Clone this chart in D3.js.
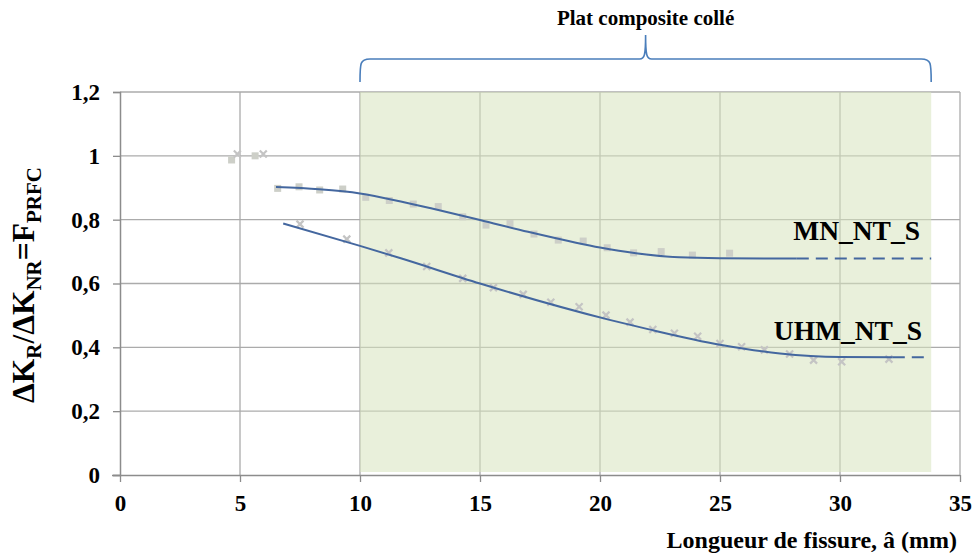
<!DOCTYPE html>
<html>
<head>
<meta charset="utf-8">
<script src="https://cdn.jsdelivr.net/npm/d3@7"></script>
<style>
  body { margin: 0; background: #fff; }
</style>
</head>
<body>
<div id="chart"></div>
<script>
// ticks
const xTicks = [0, 5, 10, 15, 20, 25, 30, 35]
const yTicks = [0, 0.2, 0.4, 0.6, 0.8, 1, 1.2]

// zone "plat composite collé" (mm)
const zoneRange = [10, 33.8]

// MN_NT_S : points mesurés (carrés)
const mnPoints = [
  [4.65, 0.987], [5.63, 1.0], [6.57, 0.898], [7.46, 0.903], [8.32, 0.893],
  [9.28, 0.896], [10.24, 0.870], [11.22, 0.860], [12.22, 0.849], [13.26, 0.841],
  [14.28, 0.809], [15.25, 0.783], [16.25, 0.788], [17.25, 0.755], [18.26, 0.736],
  [19.3, 0.733], [20.3, 0.712], [21.4, 0.696], [22.55, 0.700], [23.85, 0.689],
  [25.4, 0.695]
]
// UHM_NT_S : points mesurés (croix)
const uhmPoints = [
  [4.89, 1.006], [5.97, 1.006], [7.5, 0.786], [9.45, 0.739], [11.2, 0.696],
  [12.78, 0.653], [14.28, 0.616], [15.56, 0.587], [16.8, 0.566], [17.95, 0.541],
  [19.13, 0.527], [20.25, 0.501], [21.25, 0.479], [22.2, 0.456], [23.1, 0.444],
  [24.07, 0.435], [25.0, 0.412], [25.9, 0.402], [26.85, 0.392], [27.9, 0.379],
  [28.9, 0.360], [30.07, 0.355], [32.04, 0.363]
]

// courbes de tendance
const mnCurve = [
  [6.5, 0.902], [8.3, 0.895], [10, 0.882], [11.7, 0.857], [13, 0.835], [15, 0.799],
  [17, 0.762], [19, 0.728], [20, 0.713], [21.5, 0.695], [23.3, 0.682], [25, 0.679],
  [28.2, 0.678]
]
const mnDash = [[28.2, 0.678], [33.8, 0.678]]
const uhmCurve = [
  [6.8, 0.788], [10, 0.718], [11.7, 0.679], [15, 0.600], [20.4, 0.486], [22, 0.457],
  [25, 0.408], [27.5, 0.381], [30, 0.370], [32.2, 0.369]
]
const uhmDash = [[32.2, 0.369], [33.5, 0.369]]

const width = 976
const height = 556
const margin = { top: 92, right: 16, bottom: 81, left: 120 }
const lineColor = '#44679f'
const font = 'Liberation Serif'

const svg = d3.select('#chart')
  .append('svg')
  .attr('width', width)
  .attr('height', height)
  .attr('font-family', font)
  .attr('font-weight', 'bold')

const x = d3.scaleLinear().domain([0, 35]).range([margin.left, width - margin.right])
const y = d3.scaleLinear().domain([0, 1.2]).range([height - margin.bottom, margin.top])

// ajoute un texte en gras
function addText(px, py, size, anchor, str) {
  return svg.append('text')
    .attr('x', px).attr('y', py)
    .attr('font-family', font).attr('font-weight', 'bold')
    .attr('font-size', size).attr('text-anchor', anchor)
    .attr('fill', '#000')
    .text(str)
}

// grille
const grid = svg.append('g').attr('class', 'grid')
grid.selectAll('line.h')
  .data(yTicks.filter(d => d > 0))
  .enter().append('line')
  .attr('x1', x(0)).attr('x2', x(35))
  .attr('y1', d => y(d)).attr('y2', d => y(d))
  .attr('stroke', '#ababab').attr('stroke-width', 1.3)
grid.selectAll('line.v')
  .data(xTicks.filter(d => d > 0))
  .enter().append('line')
  .attr('x1', d => x(d)).attr('x2', d => x(d))
  .attr('y1', y(0)).attr('y2', y(1.2))
  .attr('stroke', '#ababab').attr('stroke-width', 1.3)

// zone verte
svg.append('rect')
  .attr('x', x(zoneRange[0]))
  .attr('y', y(1.2))
  .attr('width', x(zoneRange[1]) - x(zoneRange[0]))
  .attr('height', y(0) - y(1.2) - 3)
  .attr('fill', '#d7e4bd')
  .attr('opacity', 0.55)

// axes
const xAxis = svg.append('g')
  .attr('transform', `translate(0,${y(0)})`)
  .call(d3.axisBottom(x).tickValues(xTicks).tickSize(7).tickPadding(13).tickFormat(d3.format('d')))
const yAxis = svg.append('g')
  .attr('transform', `translate(${x(0)},0)`)
  .call(d3.axisLeft(y).tickValues(yTicks).tickSize(7).tickPadding(13)
    .tickFormat(d => d3.format('.1~f')(d).replace('.', ',')))
;[xAxis, yAxis].forEach(a => {
  a.attr('font-family', font).attr('font-weight', 'bold').attr('font-size', 23)
  a.select('.domain').attr('stroke', '#8c8c8c').attr('stroke-width', 1.5)
  a.selectAll('.tick line').attr('stroke', '#8c8c8c').attr('stroke-width', 1.3)
  a.selectAll('.tick text')
    .attr('font-family', font)
    .attr('font-weight', 'bold')
    .attr('font-size', 23)
    .attr('fill', '#000')
})
xAxis.select('.domain').attr('d', `M${x(0) - 8},0.5H${x(35)}`)

// points mesurés
svg.append('g').selectAll('rect')
  .data(mnPoints)
  .enter().append('rect')
  .attr('x', d => x(d[0]) - 3.5)
  .attr('y', d => y(d[1]) - 3.5)
  .attr('width', 7).attr('height', 7)
  .attr('fill', '#cdcfc8')
svg.append('g').selectAll('path')
  .data(uhmPoints)
  .enter().append('path')
  .attr('d', d => {
    const cx = x(d[0]), cy = y(d[1]), r = 3.5
    return `M${cx - r},${cy - r}L${cx + r},${cy + r}M${cx + r},${cy - r}L${cx - r},${cy + r}`
  })
  .attr('stroke', '#c4c4c4').attr('stroke-width', 2.2)

// courbes
const line = d3.line().x(d => x(d[0])).y(d => y(d[1])).curve(d3.curveMonotoneX)
;[mnCurve, uhmCurve].forEach(c => {
  svg.append('path').datum(c).attr('d', line)
    .attr('fill', 'none').attr('stroke', lineColor).attr('stroke-width', 2)
})
;[mnDash, uhmDash].forEach(c => {
  svg.append('path').datum(c).attr('d', line)
    .attr('fill', 'none').attr('stroke', lineColor).attr('stroke-width', 2)
    .attr('stroke-dasharray', '12,7')
})

// étiquettes des séries
addText(920, 240, 27.5, 'end', 'MN_NT_S')
addText(922, 340, 27.5, 'end', 'UHM_NT_S')

// accolade
const bx1 = x(zoneRange[0]), bx2 = x(zoneRange[1])
const bc = x(21.9)
const bTop = 35, bMid = 59, bEnd = 82
svg.append('path')
  .attr('d', `M${bx1},${bEnd} C${bx1},${bMid + 4} ${bx1},${bMid} ${bx1 + 10},${bMid}` +
    ` L${bc - 6},${bMid} C${bc - 1},${bMid} ${bc},${bMid - 4} ${bc},${bTop}` +
    ` C${bc},${bMid - 4} ${bc + 1},${bMid} ${bc + 6},${bMid}` +
    ` L${bx2 - 10},${bMid} C${bx2},${bMid} ${bx2},${bMid + 4} ${bx2},${bEnd}`)
  .attr('fill', 'none').attr('stroke', '#4a7ebb').attr('stroke-width', 1.6)

addText(bc, 25, 21, 'middle', 'Plat composite collé')

// titres des axes
addText(957, 548, 24, 'end', 'Longueur de fissure, â (mm)')

const yLabel = addText(0, 0, 31.5, 'middle', null)
  .attr('transform', 'translate(34,285) rotate(-90)')
const parts = [['ΔK', false], ['R', true], ['/ΔK', false], ['NR', true], ['=F', false], ['PRFC', true]]
parts.forEach((p, i) => {
  const prev = i > 0 ? parts[i - 1][1] : false
  yLabel.append('tspan')
    .attr('font-size', p[1] ? 21 : 31.5)
    .attr('dy', p[1] ? 7 : (prev ? -7 : 0))
    .text(p[0])
})
</script>
</body>
</html>
